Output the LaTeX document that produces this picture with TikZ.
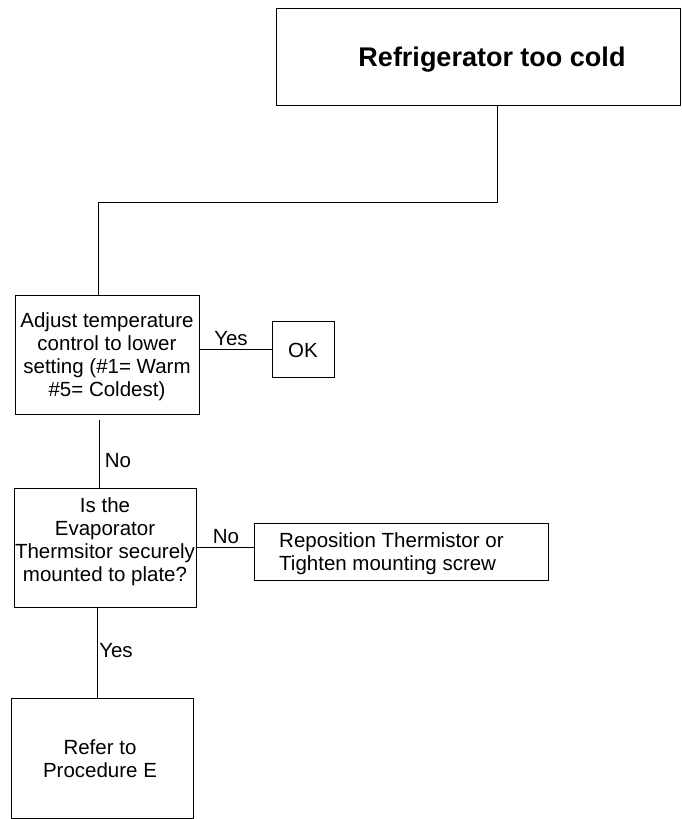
\documentclass[tikz,border=0pt]{standalone}
\usepackage{fontspec}
\setmainfont{Liberation Sans}
\begin{document}
\begin{tikzpicture}[x=1pt,y=-1pt,
  box/.style={draw=black,line width=1pt,inner sep=0pt,rectangle},
  txt/.style={inner sep=0pt,align=center,font=\fontsize{20.5}{23}\selectfont},
  lbl/.style={inner sep=0pt,font=\fontsize{20.5}{23}\selectfont},
  conn/.style={draw=black,line width=1pt}]
\useasboundingbox (0,0) rectangle (681,819);
% boxes
\node[box,minimum width=404pt,minimum height=97pt] (top) at (478,56.5) {};
\node[box,minimum width=184pt,minimum height=119pt] (b1) at (107,354.5) {};
\node[box,minimum width=62pt,minimum height=56pt] (ok) at (303,349) {};
\node[box,minimum width=182pt,minimum height=119pt] (b2) at (105,547.5) {};
\node[box,minimum width=294pt,minimum height=57pt] (b3) at (401,551.5) {};
\node[box,minimum width=182pt,minimum height=120pt] (b4) at (102,758) {};
% texts
\node[inner sep=0pt,font=\fontsize{27}{30}\selectfont\bfseries] (ttop) at (492,60) {Refrigerator too cold};
\node[txt] (t1) at (107,357) {Adjust temperature\\control to lower\\setting (\#1= Warm\\\#5= Coldest)};
\node[txt] (tok) at (303,350) {OK};
\node[txt] (t2) at (105,542) {Is the\\Evaporator\\Thermsitor securely\\mounted to plate?};
\node[txt,align=left,anchor=west] (t3) at (279,554) {Reposition Thermistor or\\Tighten mounting screw};
\node[txt] (t4) at (100,759) {Refer to\\Procedure E};
% connectors
\coordinate (c1) at (497,202);
\coordinate (c2) at (98,202);
\draw[conn] (top.south -| c1) -- (c1) -- (c2) -- (c2 |- b1.north);
\draw[conn] (ok.west -| b1.east) -- (ok.west);
\node[lbl] (lyes1) at (231,339) {Yes};
\coordinate (n1) at (99,420);
\draw[conn] (n1) -- (n1 |- b2.north);
\node[lbl] (lno1) at (118,461) {No};
\draw[conn] (b2.east) -- (b2.east -| b3.west);
\node[lbl] (lno2) at (226,537) {No};
\coordinate (y2) at (97,650);
\draw[conn] (b2.south -| y2) -- (b4.north -| y2);
\node[lbl] (lyes2) at (116,651) {Yes};
\end{tikzpicture}
\end{document}
